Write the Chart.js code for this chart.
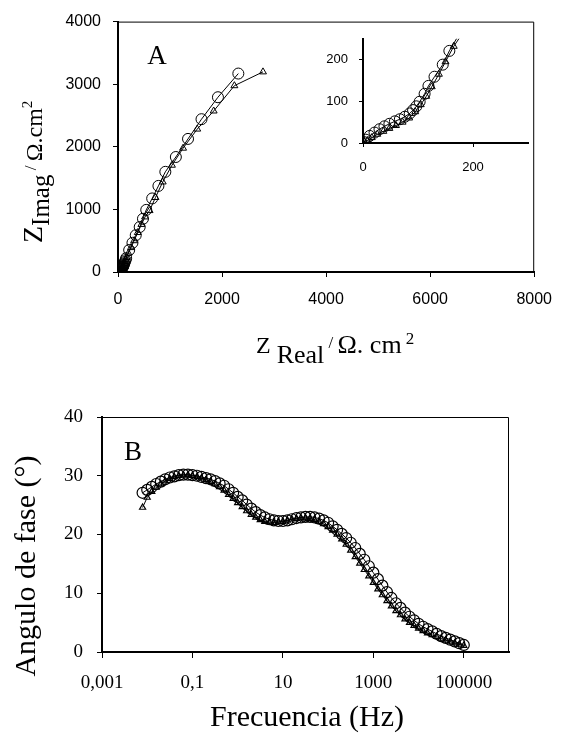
<!DOCTYPE html>
<html>
<head>
<meta charset="utf-8">
<script src="https://cdn.jsdelivr.net/npm/chart.js@4.4.1/dist/chart.umd.min.js"></script>
<style>
  html, body { margin: 0; padding: 0; background: #fff; }
  #wrap { position: relative; width: 565px; height: 734px; }
  canvas { position: absolute; }
</style>
</head>
<body>
<div id="wrap">
  <canvas id="nyqChart" width="565" height="380" style="left:0;top:0;width:565px;height:380px"></canvas>
  <canvas id="insetChart" width="240" height="165" style="left:300px;top:20px;width:240px;height:165px"></canvas>
  <canvas id="bodeChart" width="565" height="354" style="left:0;top:380px;width:565px;height:354px"></canvas>
</div>
<script>
// Nyquist (A) - circles
const nyqReC = [2, 5, 12, 21, 30, 39, 48, 58, 67, 76, 85, 91, 97, 103, 112, 119, 130, 145, 157, 215, 278, 341, 417, 480, 543, 657, 777, 910, 1112, 1346, 1605, 1921, 2313];
const nyqImC = [2, 8, 17, 25, 33, 40, 46, 52, 57, 63, 71, 79, 88, 99, 118, 137, 159, 188, 221, 351, 466, 587, 718, 850, 992, 1175, 1375, 1600, 1837, 2126, 2441, 2792, 3170];
// Nyquist (A) - triangles
const nyqReT = [3, 8, 16, 26, 37, 48, 60, 72, 84, 95, 105, 115, 125, 138, 150, 165, 200, 250, 310, 380, 450, 520, 607, 720, 860, 1037, 1251, 1523, 1839, 2237, 2787];
const nyqImT = [2, 6, 13, 21, 28, 35, 42, 50, 60, 75, 92, 112, 135, 165, 195, 232, 300, 390, 500, 630, 760, 880, 981, 1190, 1438, 1706, 1978, 2283, 2572, 2976, 3197];

// Bode phase (B)
const freqHz = [0.0079, 0.01, 0.0126, 0.0158, 0.02, 0.0251, 0.0316, 0.0398, 0.0501, 0.0631, 0.0794,
  0.1, 0.126, 0.158, 0.2, 0.251, 0.316, 0.398, 0.501, 0.631, 0.794,
  1, 1.26, 1.58, 2, 2.51, 3.16, 3.98, 5.01, 6.31, 7.94,
  10, 12.6, 15.8, 20, 25.1, 31.6, 39.8, 50.1, 63.1, 79.4,
  100, 126, 158, 200, 251, 316, 398, 501, 631, 794,
  1000, 1260, 1580, 2000, 2510, 3160, 3980, 5010, 6310, 7940,
  10000, 12600, 15800, 20000, 25100, 31600, 39800, 50100, 63100, 79400,
  100000];
const phaseC = [27.1, 27.6, 28.1, 28.6, 29.0, 29.4, 29.7, 29.9, 30.1, 30.2, 30.2,
  30.1, 30.0, 29.8, 29.6, 29.4, 29.1, 28.7, 28.3, 27.7, 27.1,
  26.4, 25.8, 25.1, 24.4, 23.8, 23.3, 22.9, 22.6, 22.4, 22.3,
  22.3, 22.4, 22.6, 22.8, 22.9, 23.0, 23.0, 22.9, 22.7, 22.4,
  22.0, 21.4, 20.8, 20.1, 19.4, 18.6, 17.7, 16.7, 15.7, 14.6,
  13.5, 12.4, 11.3, 10.2, 9.2, 8.3, 7.5, 6.7, 6.0, 5.4,
  4.8, 4.3, 3.9, 3.5, 3.1, 2.7, 2.4, 2.1, 1.8, 1.5,
  1.2];
const phaseT = [24.6, 26.3, 27.3, 28.0, 28.6, 29.1, 29.5, 29.8, 30.0, 30.1, 30.1,
  30.0, 29.8, 29.6, 29.3, 29.0, 28.6, 28.1, 27.5, 26.8, 26.1,
  25.4, 24.7, 24.0, 23.4, 22.9, 22.5, 22.2, 22.1, 22.0, 22.1,
  22.2, 22.4, 22.6, 22.7, 22.8, 22.8, 22.7, 22.5, 22.2, 21.8,
  21.3, 20.7, 20.0, 19.2, 18.3, 17.3, 16.2, 15.1, 14.0, 12.9,
  11.8, 10.7, 9.7, 8.7, 7.8, 7.0, 6.3, 5.6, 5.0, 4.5,
  4.0, 3.6, 3.2, 2.9, 2.6, 2.3, 2.0, 1.8, 1.5, 1.3,
  1.1];

// tick values / labels
const nyqXTicks = [0, 2000, 4000, 6000, 8000];
const nyqYTicks = [0, 1000, 2000, 3000, 4000];
const insetXTicks = [0, 200];
const insetYTicks = [0, 100, 200];
const bodeYTicks = [0, 10, 20, 30, 40];
const bodeTickVals = [0.001, 0.1, 10, 1000, 100000];
const bodeTickLabels = ["0,001", "0,1", "10", "1000", "100000"];

const serif = "'Liberation Serif', 'Times New Roman', serif";
const sans = "'Liberation Sans', Arial, sans-serif";

Chart.defaults.color = "#000";
Chart.defaults.animation = false;

function toPoints(xs, ys) {
  return xs.map((x, i) => ({ x: x, y: ys[i] }));
}

// draws a title made of pieces with their own size and baseline shift
function drawRich(ctx, x, y, parts, rotate, center) {
  ctx.save();
  ctx.translate(x, y);
  if (rotate) ctx.rotate(-Math.PI / 2);
  ctx.fillStyle = "#000";
  ctx.textBaseline = "alphabetic";
  ctx.textAlign = "left";
  let total = 0;
  parts.forEach((p) => {
    ctx.font = p.size + "px " + serif;
    total += ctx.measureText(p.text).width;
  });
  let cx = center ? -total / 2 : 0;
  parts.forEach((p) => {
    ctx.font = p.size + "px " + serif;
    ctx.fillText(p.text, cx, p.dy || 0);
    cx += ctx.measureText(p.text).width;
  });
  ctx.restore();
}

function seriesStyle(style, radius, width) {
  return {
    showLine: true,
    borderColor: "#000",
    backgroundColor: "rgba(0,0,0,0)",
    borderWidth: 1,
    pointStyle: style,
    pointRadius: radius,
    pointBorderColor: "#000",
    pointBorderWidth: width || 1,
    pointBackgroundColor: "rgba(0,0,0,0)",
  };
}

function axisOpts(min, max, tickVals, fontSpec, tickLen, pad, fitSize, isX) {
  return {
    type: "linear",
    min: min,
    max: max,
    afterBuildTicks: (s) => {
      s.ticks = tickVals.map((v) => ({ value: v }));
    },
    ticks: {
      autoSkip: false,
      font: fontSpec,
      color: "#000",
      padding: pad,
      maxRotation: 0,
      callback: (value) => String(value),
    },
    grid: { display: true, drawOnChartArea: false, drawTicks: true, tickLength: tickLen, color: "#000", lineWidth: 1 },
    border: { display: true, color: "#000", width: 2 },
    afterFit: (s) => {
      if (isX) s.height = fitSize; else s.width = fitSize;
    },
  };
}

const framePlugin = {
  id: "frame",
  afterDraw(chart) {
    const ctx = chart.ctx;
    const a = chart.chartArea;
    ctx.save();
    ctx.strokeStyle = "#000";
    ctx.lineWidth = 1;
    ctx.beginPath();
    ctx.moveTo(a.left, a.top + 0.5);
    ctx.lineTo(a.right - 0.5, a.top + 0.5);
    ctx.lineTo(a.right - 0.5, a.bottom);
    ctx.stroke();
    ctx.restore();
  },
};

// ---------- A: Nyquist ----------
new Chart(document.getElementById("nyqChart").getContext("2d"), {
  type: "scatter",
  data: {
    datasets: [
      Object.assign({ data: toPoints(nyqReT, nyqImT) }, seriesStyle("triangle", 4)),
      Object.assign({ data: toPoints(nyqReC, nyqImC) }, seriesStyle("circle", 5.5)),
    ],
  },
  options: {
    responsive: false,
    events: [],
    layout: { padding: { left: 0, right: 25, top: 18, bottom: 0 } },
    plugins: { legend: { display: false }, tooltip: { enabled: false } },
    scales: {
      x: axisOpts(0, 8000, nyqXTicks, { family: sans, size: 16 }, 5, 13, 108, true),
      y: axisOpts(0, 4000, nyqYTicks, { family: sans, size: 16 }, 5, 12, 118, false),
    },
  },
  plugins: [framePlugin, {
    id: "nyqText",
    afterDraw(chart) {
      const ctx = chart.ctx;
      ctx.save();
      ctx.font = "27px " + serif;
      ctx.textAlign = "center";
      ctx.textBaseline = "middle";
      ctx.fillText("A", 157, 57);
      ctx.restore();
      drawRich(ctx, 256, 353, [
        { text: "Z ", size: 24 },
        { text: "Real", size: 26, dy: 10 },
        { text: " / ", size: 17, dy: -5 },
        { text: "Ω. cm", size: 26 },
        { text: " 2", size: 17, dy: -9 },
      ], false, false);
      drawRich(ctx, 42, 243, [
        { text: "Z", size: 28 },
        { text: "Imag", size: 25, dy: 7 },
        { text: " / ", size: 17, dy: -6 },
        { text: "Ω.cm", size: 24 },
        { text: "2", size: 15, dy: -10 },
      ], true, false);
    },
  }],
});

// ---------- A inset ----------
new Chart(document.getElementById("insetChart").getContext("2d"), {
  type: "scatter",
  data: {
    datasets: [
      Object.assign({ data: toPoints(nyqReT, nyqImT) }, seriesStyle("triangle", 4)),
      Object.assign({ data: toPoints(nyqReC, nyqImC) }, seriesStyle("circle", 5.5)),
    ],
  },
  options: {
    responsive: false,
    events: [],
    layout: { padding: { left: 0, right: 12, top: 14, bottom: 0 } },
    plugins: { legend: { display: false }, tooltip: { enabled: false } },
    scales: {
      x: axisOpts(0, 300, insetXTicks, { family: sans, size: 13 }, 4, 13, 42, true),
      y: axisOpts(0, 250, insetYTicks, { family: sans, size: 13 }, 4, 11, 63, false),
    },
  },
});

// ---------- B: Bode phase ----------
new Chart(document.getElementById("bodeChart").getContext("2d"), {
  type: "scatter",
  data: {
    datasets: [
      Object.assign({ data: toPoints(freqHz, phaseT) }, seriesStyle("triangle", 3.5, 1.2)),
      Object.assign({ data: toPoints(freqHz, phaseC) }, seriesStyle("circle", 5.5, 1.2)),
    ],
  },
  options: {
    responsive: false,
    events: [],
    layout: { padding: { left: 0, right: 56, top: 37, bottom: 0 } },
    plugins: { legend: { display: false }, tooltip: { enabled: false } },
    scales: {
      x: {
        type: "logarithmic",
        min: 0.001,
        max: 1000000,
        afterBuildTicks: (s) => {
          s.ticks = bodeTickVals.map((v) => ({ value: v }));
        },
        ticks: {
          autoSkip: false,
          maxRotation: 0,
          padding: 14,
          font: { family: serif, size: 19 },
          color: "#000",
          callback: (value, index) => bodeTickLabels[index],
        },
        grid: { display: true, drawOnChartArea: false, drawTicks: true, tickLength: 6, color: "#000" },
        border: { display: true, color: "#000", width: 2 },
        afterFit: (s) => { s.height = 82; },
      },
      y: axisOpts(0, 40, bodeYTicks, { family: serif, size: 19 }, 5, 14, 102, false),
    },
  },
  plugins: [framePlugin, {
    id: "bodeText",
    afterDraw(chart) {
      const ctx = chart.ctx;
      ctx.save();
      ctx.font = "27px " + serif;
      ctx.textAlign = "center";
      ctx.textBaseline = "middle";
      ctx.fillText("B", 133, 453 - 380);
      ctx.restore();
      drawRich(ctx, 307, 726 - 380, [{ text: "Frecuencia (Hz)", size: 30 }], false, true);
      drawRich(ctx, 35, 566 - 380, [{ text: "Angulo de fase (°)", size: 30 }], true, true);
    },
  }],
});
</script>
</body>
</html>
